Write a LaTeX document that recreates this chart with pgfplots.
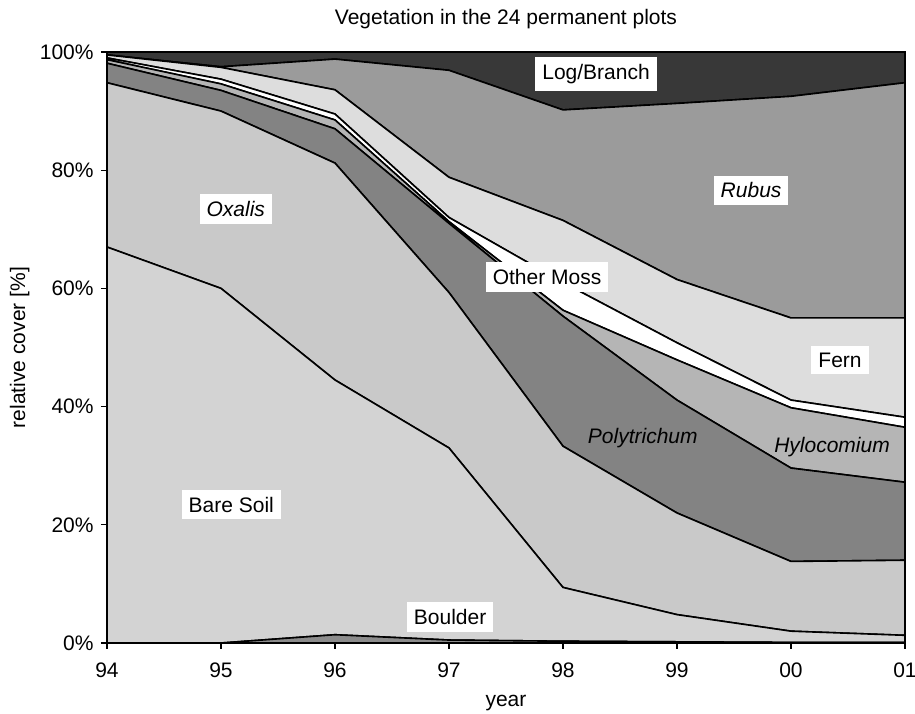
\documentclass[border=0pt]{standalone}
\usepackage{fontspec}
\setmainfont{Liberation Sans}
\usepackage{pgfplots}
\pgfplotsset{compat=1.18}
\definecolor{cBoulder}{HTML}{8C8C8C}
\definecolor{cSoil}{HTML}{D3D3D3}
\definecolor{cOxalis}{HTML}{C9C9C9}
\definecolor{cPoly}{HTML}{838383}
\definecolor{cHylo}{HTML}{B5B5B5}
\definecolor{cMoss}{HTML}{FFFFFF}
\definecolor{cFern}{HTML}{DDDDDD}
\definecolor{cRubus}{HTML}{9B9B9B}
\definecolor{cLog}{HTML}{383838}
\begin{document}
\fontsize{10.5}{12.6}\selectfont
\begin{tikzpicture}[lab/.style={fill=white, inner sep=3.5pt}]
\begin{axis}[
  scale only axis, width=399pt, height=295.5pt,
  xmin=0, xmax=7, ymin=0, ymax=100,
  stack plots=y, area style,
  xtick={0,...,7}, xticklabels={94,95,96,97,98,99,00,01},
  ytick={0,20,...,100}, yticklabels={0\%,20\%,40\%,60\%,80\%,100\%},
  tick align=outside, tick pos=left, major tick length=3pt,
  tick style={black, line width=0.6pt},
  xticklabel style={yshift=-3pt},
  title={Vegetation in the 24 permanent plots},
  title style={yshift=2pt},
  xlabel={year}, ylabel={relative cover [\%]},
  xlabel style={yshift=-2pt},
  ylabel style={yshift=-2pt},
  every axis plot/.append style={draw=black, line width=0.8pt, line join=round},
  axis line style={line width=0.8pt},
  axis on top,
]
\addplot[fill=cBoulder] coordinates {(0,0) (1,0) (2,1.4) (3,0.5) (4,0.3) (5,0.2) (6,0.1) (7,0.1)} \closedcycle;
\addplot[fill=cSoil] coordinates {(0,67) (1,60) (2,43.1) (3,32.5) (4,9.1) (5,4.6) (6,1.9) (7,1.2)} \closedcycle;
\addplot[fill=cOxalis] coordinates {(0,27.8) (1,30) (2,36.7) (3,26.3) (4,23.9) (5,17.2) (6,11.8) (7,12.7)} \closedcycle;
\addplot[fill=cPoly] coordinates {(0,3.3) (1,3.5) (2,5.8) (3,11.7) (4,22.0) (5,19.1) (6,15.8) (7,13.2)} \closedcycle;
\addplot[fill=cHylo] coordinates {(0,0.6) (1,1.1) (2,1.5) (3,0.3) (4,1.0) (5,6.8) (6,10.2) (7,9.3)} \closedcycle;
\addplot[fill=cMoss] coordinates {(0,0.3) (1,0.8) (2,1.0) (3,0.7) (4,4.7) (5,2.9) (6,1.3) (7,1.7)} \closedcycle;
\addplot[fill=cFern] coordinates {(0,0.5) (1,2.0) (2,4.1) (3,6.8) (4,10.5) (5,10.7) (6,13.9) (7,16.8)} \closedcycle;
\addplot[fill=cRubus] coordinates {(0,0) (1,0.1) (2,5.2) (3,18.1) (4,18.7) (5,29.8) (6,37.5) (7,39.8)} \closedcycle;
\addplot[fill=cLog] coordinates {(0,0.5) (1,2.5) (2,1.2) (3,3.1) (4,9.8) (5,8.7) (6,7.5) (7,5.2)} \closedcycle;
\coordinate (SW) at (rel axis cs:0,0);
\coordinate (NE) at (rel axis cs:1,1);
\coordinate (pLog) at (axis cs:4.29,96.3);
\coordinate (pRubus) at (axis cs:5.65,76.6);
\coordinate (pOxalis) at (axis cs:1.13,73.4);
\coordinate (pMoss) at (axis cs:3.86,61.9);
\coordinate (pFern) at (axis cs:6.43,47.9);
\coordinate (pPoly) at (axis cs:4.70,34.7);
\coordinate (pHylo) at (axis cs:6.36,33.2);
\coordinate (pSoil) at (axis cs:1.09,23.4);
\coordinate (pBoulder) at (axis cs:3.01,4.4);
\end{axis}
\node[lab] at (pLog) {Log/Branch};
\node[lab] at (pRubus) {\itshape Rubus};
\node[lab] at (pOxalis) {\itshape Oxalis};
\node[lab] at (pMoss) {Other Moss};
\node[lab] at (pFern) {Fern};
\node at (pPoly) {\itshape Polytrichum};
\node at (pHylo) {\itshape Hylocomium};
\node[lab] at (pSoil) {Bare Soil};
\node[lab] at (pBoulder) {Boulder};
\pgfresetboundingbox
\path ([shift={(-53.5pt,-35.5pt)}]SW) rectangle ([shift={(5pt,26pt)}]NE);
\end{tikzpicture}
\end{document}
